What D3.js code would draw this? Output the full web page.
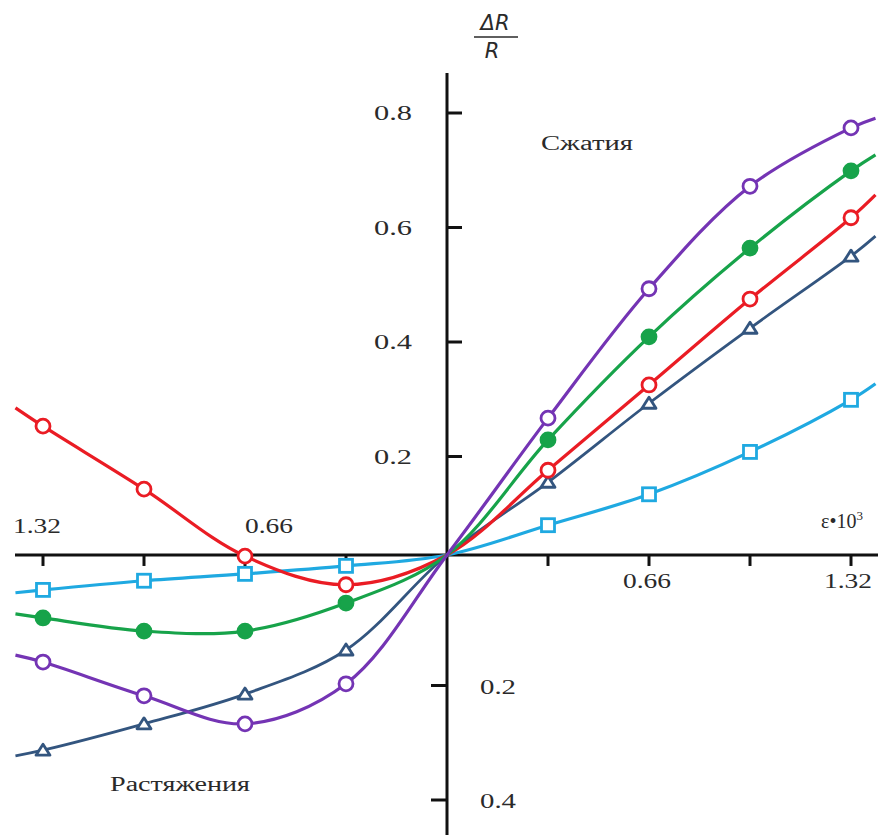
<!DOCTYPE html>
<html>
<head>
<meta charset="utf-8">
<script src="https://cdn.jsdelivr.net/npm/d3@7"></script>
<style>
  body { margin: 0; background: #fff; }
  svg { display: block; }
</style>
</head>
<body>
<svg id="chart" width="882" height="835"></svg>
<script>
// strain positions (x, ε·10³), marker points; ends are where the lines stop
var strain = [-1.32, -0.99, -0.66, -0.33, 0.33, 0.66, 0.99, 1.32];
var leftEnd = -1.41, rightEnd = 1.40;
var origin = 0.028; // level where the axes cross

// ΔR/R values, one per strain position
var violet = [-0.159, -0.218, -0.267, -0.197, 0.267, 0.493, 0.672, 0.774];
var green  = [-0.082, -0.105, -0.105, -0.056, 0.229, 0.409, 0.564, 0.699];
var red    = [0.253, 0.143, 0.026, -0.024, 0.176, 0.325, 0.475, 0.617];
var navy   = [-0.313, -0.267, -0.215, -0.138, 0.155, 0.293, 0.424, 0.550];
var cyan   = [-0.033, -0.017, -0.005, 0.009, 0.080, 0.134, 0.208, 0.299];

// values where the lines run out past the last markers
var violetEnds = [-0.147, 0.791];
var greenEnds  = [-0.075, 0.727];
var redEnds    = [0.285, 0.657];
var navyEnds   = [-0.323, 0.585];
var cyanEnds   = [-0.038, 0.327];

var yTicksUp = [0.2, 0.4, 0.6, 0.8];
var yTicksDown = [-0.2, -0.4];
var xTicks = [-1.32, -0.99, -0.66, -0.33, 0.33, 0.66, 0.99, 1.32];

var series = [
  { name: "cyan",   values: cyan,   ends: cyanEnds,   color: "#1fa9e1", marker: "square",   width: 3.2 },
  { name: "navy",   values: navy,   ends: navyEnds,   color: "#33557f", marker: "triangle", width: 2.8 },
  { name: "red",    values: red,    ends: redEnds,    color: "#ea1c24", marker: "circle",   width: 3.2 },
  { name: "green",  values: green,  ends: greenEnds,  color: "#17a34a", marker: "dot",      width: 3.2 },
  { name: "violet", values: violet, ends: violetEnds, color: "#7434b4", marker: "circle",   width: 3.2 }
];

var serif = "'Liberation Serif', 'Times New Roman', 'DejaVu Serif', serif";

var svg = d3.select("#chart");

var x = d3.scaleLinear().domain([0, 1.32]).range([447, 851]);
var y = d3.scaleLinear().domain([-0.4, 0.8]).range([800, 113]);
var y0 = y(origin);

function label(sel) {
  return sel.attr("font-family", serif).attr("font-size", 20)
    .attr("fill", "#2a2a2a").attr("lengthAdjust", "spacingAndGlyphs");
}

// axes
svg.append("line")
  .attr("x1", 15).attr("x2", 878).attr("y1", y0).attr("y2", y0)
  .attr("stroke", "#111").attr("stroke-width", 3);
svg.append("line")
  .attr("x1", x(0)).attr("x2", x(0)).attr("y1", 73).attr("y2", 835)
  .attr("stroke", "#111").attr("stroke-width", 3);

svg.selectAll(".xtick").data(xTicks).enter().append("line")
  .attr("x1", d => x(d)).attr("x2", d => x(d))
  .attr("y1", y0).attr("y2", y0 + 11)
  .attr("stroke", "#111").attr("stroke-width", 3);

svg.selectAll(".ytick-up").data(yTicksUp).enter().append("line")
  .attr("x1", x(0)).attr("x2", x(0) + 15)
  .attr("y1", d => y(d)).attr("y2", d => y(d))
  .attr("stroke", "#111").attr("stroke-width", 3);

svg.selectAll(".ytick-down").data(yTicksDown).enter().append("line")
  .attr("x1", x(0) - 16).attr("x2", x(0))
  .attr("y1", d => y(d)).attr("y2", d => y(d))
  .attr("stroke", "#111").attr("stroke-width", 3);

// tick labels
svg.selectAll(".ylab-up").data(yTicksUp).enter().append("text")
  .call(label)
  .attr("x", 374).attr("y", d => y(d) + 7)
  .attr("textLength", 38)
  .text(d => d.toFixed(1));

svg.selectAll(".ylab-down").data(yTicksDown).enter().append("text")
  .call(label)
  .attr("x", 480).attr("y", d => y(d) + 8)
  .attr("textLength", 36)
  .text(d => Math.abs(d).toFixed(1));

var xLabels = [
  { v: -1.32, text: "1.32", dx: -6, top: true },
  { v: -0.66, text: "0.66", dx: 24, top: true },
  { v: 0.66, text: "0.66", dx: -2, top: false },
  { v: 1.32, text: "1.32", dx: -3, top: false }
];
svg.selectAll(".xlab").data(xLabels).enter().append("text")
  .call(label)
  .attr("x", d => x(d.v) + d.dx - 24)
  .attr("y", d => d.top ? y0 - 22 : y0 + 33)
  .attr("textLength", 48)
  .text(d => d.text);

// axis titles
var eps = svg.append("text").call(label)
  .attr("x", 821).attr("y", y0 - 27);
eps.append("tspan").text("ε•10");
eps.append("tspan").attr("dy", -8).attr("font-size", 13).text("3");

var frac = svg.append("g").attr("font-family", "'DejaVu Sans', sans-serif")
  .attr("font-style", "italic").attr("font-size", 21).attr("fill", "#2a2a2a");
frac.append("text").attr("x", 495).attr("y", 30).attr("text-anchor", "middle").text("ΔR");
frac.append("line").attr("x1", 474).attr("x2", 518).attr("y1", 37).attr("y2", 37)
  .attr("stroke", "#2a2a2a").attr("stroke-width", 1.5);
frac.append("text").attr("x", 492).attr("y", 58).attr("text-anchor", "middle").text("R");

svg.append("text").call(label)
  .attr("x", 541).attr("y", 150)
  .attr("textLength", 92)
  .text("Сжатия");
svg.append("text").call(label)
  .attr("x", 110).attr("y", 791)
  .attr("textLength", 140)
  .text("Растяжения");

// curves
var line = d3.line()
  .x(d => x(d[0]))
  .y(d => y(d[1]))
  .curve(d3.curveCatmullRom.alpha(0.5));

function pathPoints(s) {
  var pts = [[leftEnd, s.ends[0]]];
  strain.forEach(function (v, i) {
    if (v > 0 && strain[i - 1] < 0) pts.push([0, origin]);
    pts.push([v, s.values[i]]);
  });
  pts.push([rightEnd, s.ends[1]]);
  return pts;
}

var g = svg.selectAll(".series").data(series).enter().append("g").attr("class", "series");

g.append("path")
  .attr("d", d => line(pathPoints(d)))
  .attr("fill", "none")
  .attr("stroke", d => d.color)
  .attr("stroke-width", d => d.width)
  .attr("stroke-linejoin", "round");

g.each(function (s) {
  var pts = strain.map((v, i) => [v, s.values[i]]);
  var sel = d3.select(this).selectAll(".m").data(pts).enter();
  if (s.marker === "circle" || s.marker === "dot") {
    sel.append("circle")
      .attr("cx", d => x(d[0])).attr("cy", d => y(d[1]))
      .attr("r", 7)
      .attr("fill", s.marker === "dot" ? s.color : "#fff")
      .attr("stroke", s.color).attr("stroke-width", 2.8);
  } else if (s.marker === "square") {
    sel.append("rect")
      .attr("x", d => x(d[0]) - 6.5).attr("y", d => y(d[1]) - 6.5)
      .attr("width", 13).attr("height", 13)
      .attr("fill", "#fff")
      .attr("stroke", s.color).attr("stroke-width", 2.8);
  } else {
    sel.append("path")
      .attr("transform", d => `translate(${x(d[0])},${y(d[1])})`)
      .attr("d", "M0,-6L7,5L-7,5Z")
      .attr("fill", "#fff")
      .attr("stroke", s.color).attr("stroke-width", 2.8)
      .attr("stroke-linejoin", "round");
  }
});
</script>
</body>
</html>
